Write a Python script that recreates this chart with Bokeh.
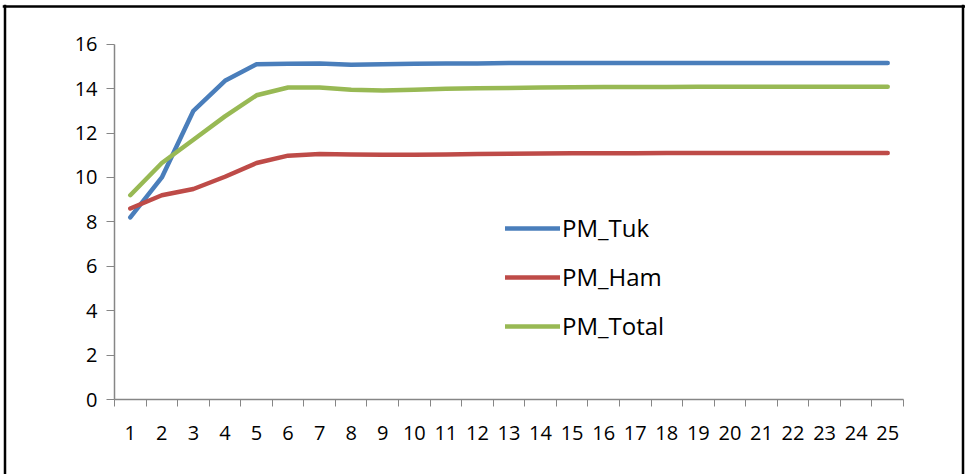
from bokeh.plotting import figure
from bokeh.models import FixedTicker, Legend, LegendItem, Range1d, Span
from bokeh.embed import file_html
from bokeh.resources import INLINE

x_vals = list(range(1, 26))
x_labels = [str(i) for i in x_vals]
y_ticks = [0, 2, 4, 6, 8, 10, 12, 14, 16]

pm_tuk = [8.2, 10.0, 13.0, 14.35, 15.1, 15.12, 15.13, 15.07, 15.1, 15.12, 15.13, 15.13,
          15.15, 15.15, 15.15, 15.15, 15.15, 15.15, 15.15, 15.15, 15.15, 15.15, 15.15, 15.15, 15.15]
pm_ham = [8.6, 9.2, 9.48, 10.03, 10.65, 10.98, 11.05, 11.03, 11.02, 11.02, 11.03, 11.06,
          11.07, 11.08, 11.09, 11.09, 11.09, 11.1, 11.1, 11.1, 11.1, 11.1, 11.1, 11.1, 11.1]
pm_total = [9.2, 10.65, 11.7, 12.75, 13.7, 14.05, 14.05, 13.95, 13.92, 13.95, 13.99, 14.02,
            14.03, 14.05, 14.06, 14.07, 14.07, 14.07, 14.08, 14.08, 14.08, 14.08, 14.08, 14.08, 14.08]

series_names = ["PM_Tuk", "PM_Ham", "PM_Total"]
series_colors = ["#4A7EBB", "#BE4B48", "#98B954"]

FONT = "Open Sans"
AX = "#868686"

# layout in canvas pixels
W, H = 965, 474
FL, FT, FR, FB = 2, 4, 965, 474          # frame extent (covers the chart area)
PL, PR, PT, PB = 114.0, 903.0, 43.7, 399.0  # plot area
x_lo, x_hi = 0.5, 25.5
y_lo, y_hi = 0.0, 16.0
sx = (PR - PL) / (x_hi - x_lo)
sy = (PB - PT) / (y_hi - y_lo)
xr = Range1d(x_lo - (PL - FL) / sx, x_hi + (FR - PR) / sx)
yr = Range1d(y_lo - (FB - PB) / sy, y_hi + (PT - FT) / sy)


def px_to_x(px):
    return x_lo + (px - PL) / sx


def px_to_y(py):
    return y_hi + (PT - py) / sy


p = figure(width=W, height=H, output_backend="svg", toolbar_location=None,
           x_range=xr, y_range=yr,
           min_border_left=FL, min_border_right=W - FR, min_border_top=FT, min_border_bottom=H - FB)
p.outline_line_color = None
p.xgrid.visible = False
p.ygrid.visible = False
p.background_fill_color = "white"
p.border_fill_color = "white"

# black border of the chart area (left, right, top; bottom is outside the picture)
p.add_layout(Span(location=px_to_x(4.5), dimension="height", line_color="black", line_width=2.5))
p.add_layout(Span(location=px_to_x(962.5), dimension="height", line_color="black", line_width=2.5))
p.add_layout(Span(location=px_to_y(6.0), dimension="width", line_color="black", line_width=2.5))

renderers = []
for data, col in zip([pm_tuk, pm_ham, pm_total], series_colors):
    r = p.line(x_vals, data, line_color=col, line_width=4.5, line_cap="round", line_join="round")
    renderers.append(r)

legend = Legend(items=[LegendItem(label=n, renderers=[r]) for n, r in zip(series_names, renderers)],
                location=(505 - FL, FB - 342), padding=0, margin=0, spacing=16,
                glyph_width=55, glyph_height=20, label_height=20, label_standoff=2,
                label_text_font=FONT, label_text_font_size="24px", label_text_color="black",
                border_line_color=None, background_fill_alpha=0)
p.add_layout(legend, "center")

xa = p.xaxis[0]
xa.fixed_location = y_lo
xa.bounds = (x_lo, x_hi)
xa.ticker = FixedTicker(ticks=x_vals, minor_ticks=[i + 0.5 for i in range(0, 26)])
xa.major_label_overrides = {i: s for i, s in zip(x_vals, x_labels)}
xa.major_tick_line_color = None
xa.minor_tick_line_color = AX
xa.minor_tick_out = 7
xa.minor_tick_in = 0
xa.axis_line_color = AX
xa.axis_line_width = 1.5
xa.major_label_text_font = FONT
xa.major_label_text_font_size = "20px"
xa.major_label_text_color = "black"
xa.major_label_standoff = 19

ya = p.yaxis[0]
ya.fixed_location = x_lo
ya.bounds = (y_lo, y_hi)
ya.ticker = FixedTicker(ticks=y_ticks)
ya.minor_tick_line_color = None
ya.major_tick_line_color = AX
ya.major_tick_out = 8
ya.major_tick_in = 0
ya.axis_line_color = AX
ya.axis_line_width = 1.5
ya.major_label_text_font = FONT
ya.major_label_text_font_size = "20px"
ya.major_label_text_color = "black"
ya.major_label_standoff = 9

open("out.html", "w").write(file_html(p, INLINE))
